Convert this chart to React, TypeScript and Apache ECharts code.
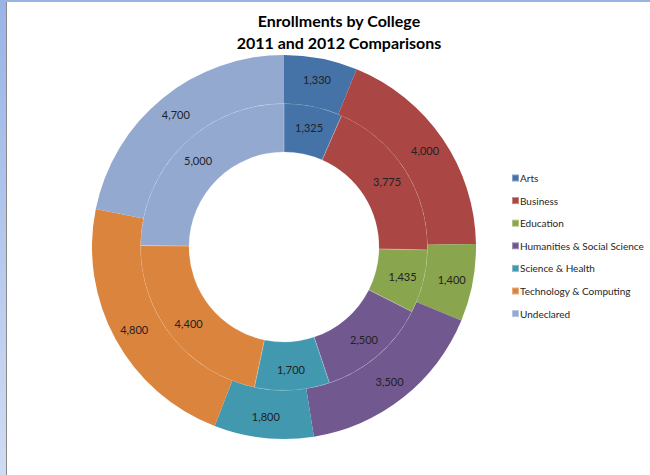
import React, { useEffect, useRef } from "react";
import * as echarts from "echarts";

const colleges = [
  "Arts",
  "Business",
  "Education",
  "Humanities & Social Science",
  "Science & Health",
  "Technology & Computing",
  "Undeclared",
];
const enroll2011 = [1325, 3775, 1435, 2500, 1700, 4400, 5000];
const enroll2012 = [1330, 4000, 1400, 3500, 1800, 4800, 4700];
const palette = ["#4572a7", "#aa4643", "#89a54e", "#71588f", "#4198af", "#db843d", "#93a9cf"];
const titleLines = ["Enrollments by College", "2011 and 2012 Comparisons"];

export default function App() {
  const ref = useRef<HTMLDivElement>(null);
  useEffect(() => {
    document.body.style.margin = "0";
    const chart = echarts.init(ref.current!, null, { renderer: "svg" });
    const font = "Lato, 'Open Sans', sans-serif";
    const mk = (vals: number[]) =>
      colleges.map((name, i) => ({ name, value: vals[i] }));
    const labelCfg = {
      show: true,
      position: "inside",
      color: "#222222",
      fontFamily: font,
      fontSize: 11,
      formatter: (p: any) => p.value.toLocaleString("en-US"),
    };
    chart.setOption({
      animation: false,
      backgroundColor: "#ffffff",
      color: palette,
      title: {
        text: titleLines.join("\n"),
        left: 334,
        textAlign: "center",
        top: 4,
        textStyle: {
          fontFamily: font,
          fontWeight: "bold",
          fontSize: 16,
          lineHeight: 22,
          color: "#000000",
        },
      },
      legend: {
        orient: "vertical",
        left: 506,
        top: 167,
        itemWidth: 7,
        itemHeight: 7,
        itemGap: 10.6,
        icon: "rect",
        data: colleges,
        textStyle: {
          fontFamily: font,
          fontSize: 10,
          lineHeight: 12,
          color: "#262626",
          padding: [0, 0, 0, -4],
        },
      },
      graphic: [
        {
          type: "rect",
          shape: { x: 0, y: 0, width: 6, height: 475 },
          style: {
            fill: new echarts.graphic.LinearGradient(0, 0, 0, 1, [
              { offset: 0, color: "#9ab4e6" },
              { offset: 1, color: "#cfdcf3" },
            ]),
          },
          silent: true,
        },
        {
          type: "rect",
          shape: { x: 0, y: 0, width: 650, height: 2 },
          style: { fill: "#9ab4e6" },
          silent: true,
        },
        {
          type: "rect",
          shape: { x: 6, y: 2, width: 1, height: 473 },
          style: { fill: "#8a8a8a" },
          silent: true,
        },
      ],
      series: [
        {
          name: "2011",
          type: "pie",
          center: [284, 247],
          radius: [95, 143.5],
          startAngle: 90,
          clockwise: true,
          avoidLabelOverlap: false,
          label: labelCfg,
          labelLine: { show: false },
          itemStyle: { borderColor: "rgba(255,255,255,0.35)", borderWidth: 0.6 },
          emphasis: { disabled: true },
          data: mk(enroll2011),
        },
        {
          name: "2012",
          type: "pie",
          center: [284, 247],
          radius: [143.5, 192],
          startAngle: 90,
          clockwise: true,
          avoidLabelOverlap: false,
          label: labelCfg,
          labelLine: { show: false },
          itemStyle: { borderWidth: 0 },
          emphasis: { disabled: true },
          data: mk(enroll2012),
        },
      ],
    });
    return () => chart.dispose();
  }, []);
  return (
    <div
      ref={ref}
      style={{ position: "fixed", left: 0, top: 0, width: 650, height: 475 }}
    />
  );
}
